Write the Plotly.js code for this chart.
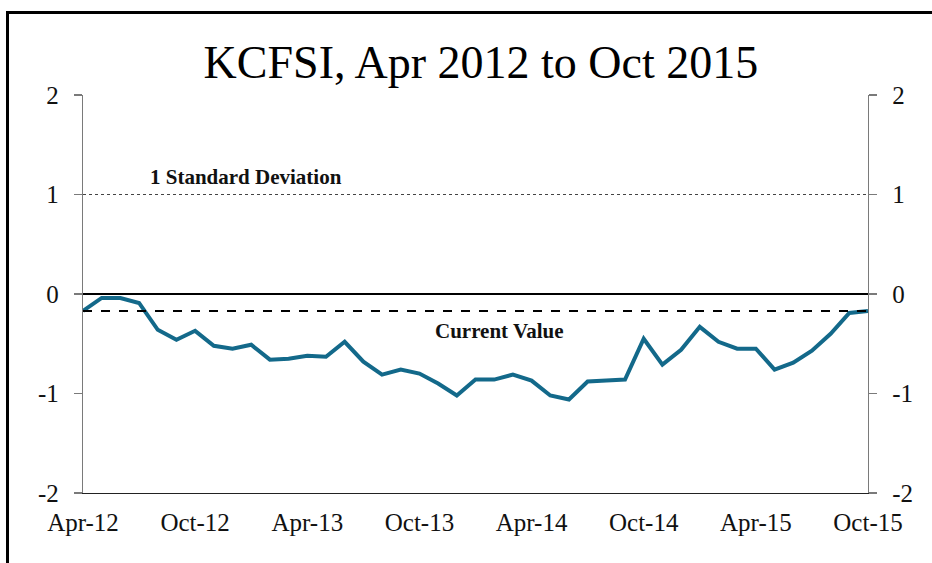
<!DOCTYPE html>
<html>
<head>
<meta charset="utf-8">
<script src="https://cdn.plot.ly/plotly-3.0.1.min.js"></script>
<style>
  html, body { margin: 0; padding: 0; background: #fff; }
  #wrap { position: relative; width: 932px; height: 563px; overflow: hidden; }
  #chart { position: absolute; left: 0; top: 0; width: 932px; height: 563px; }
  #frame { position: absolute; left: 6px; top: 11px; width: 940px; height: 600px;
           border-top: 3px solid #000; border-left: 3px solid #000; pointer-events: none; }
</style>
</head>
<body>
<div id="wrap"><div id="chart"></div><div id="frame"></div></div>
<script>
// Months (Apr-12 .. Oct-15)
const months = [
  "Apr-12","May-12","Jun-12","Jul-12","Aug-12","Sep-12","Oct-12","Nov-12","Dec-12",
  "Jan-13","Feb-13","Mar-13","Apr-13","May-13","Jun-13","Jul-13","Aug-13","Sep-13","Oct-13","Nov-13","Dec-13",
  "Jan-14","Feb-14","Mar-14","Apr-14","May-14","Jun-14","Jul-14","Aug-14","Sep-14","Oct-14","Nov-14","Dec-14",
  "Jan-15","Feb-15","Mar-15","Apr-15","May-15","Jun-15","Jul-15","Aug-15","Sep-15","Oct-15"
];
// KCFSI values
const kcfsi = [
  -0.17,-0.04,-0.04,-0.09,-0.36,-0.46,-0.37,-0.52,-0.55,
  -0.51,-0.66,-0.65,-0.62,-0.63,-0.48,-0.68,-0.81,-0.76,-0.80,-0.90,-1.02,
  -0.86,-0.86,-0.81,-0.87,-1.02,-1.06,-0.88,-0.87,-0.86,-0.45,-0.71,-0.56,
  -0.33,-0.48,-0.55,-0.55,-0.76,-0.69,-0.57,-0.40,-0.19,-0.17
];
const tickLabels = ["Apr-12","Oct-12","Apr-13","Oct-13","Apr-14","Oct-14","Apr-15","Oct-15"];
const yTicks = [-2, -1, 0, 1, 2];
const stdDev = 1;
const currentValue = -0.17;

const serif = '"Liberation Serif", "Times New Roman", Times, serif';

const traces = [
  {
    x: months, y: kcfsi, type: 'scatter', mode: 'lines',
    line: { color: '#13698a', width: 4 },
    hoverinfo: 'x+y', showlegend: false
  },
  {
    x: months, y: kcfsi, type: 'scatter', mode: 'lines', yaxis: 'y2',
    line: { color: 'rgba(0,0,0,0)', width: 0 },
    hoverinfo: 'skip', showlegend: false
  }
];

const axisY = {
  range: [-2, 2], tickvals: yTicks, ticktext: yTicks.map(String),
  showgrid: false, zeroline: false, showline: true,
  linecolor: '#7a7a7a', linewidth: 1.2,
  ticks: 'outside', ticklen: 8, tickcolor: '#7a7a7a', tickwidth: 1.2,
  ticklabelstandoff: 10,
  tickfont: { family: serif, size: 25, color: '#111' },
  fixedrange: true
};

const layout = {
  width: 932, height: 563,
  margin: { l: 83, r: 64, t: 95, b: 70 },
  paper_bgcolor: '#fff', plot_bgcolor: '#fff',
  title: {
    text: 'KCFSI, Apr 2012 to Oct 2015',
    font: { family: serif, size: 46, color: '#000' },
    x: 0.516, xref: 'container', xanchor: 'center',
    y: 0.89, yref: 'container', yanchor: 'middle'
  },
  xaxis: {
    type: 'category', range: [0, months.length - 1],
    tickvals: tickLabels, ticktext: tickLabels,
    showgrid: false, zeroline: false, showline: true,
    linecolor: '#222', linewidth: 1.2, ticks: '',
    ticklabelstandoff: 7,
    tickfont: { family: serif, size: 25, color: '#111' },
    fixedrange: true
  },
  yaxis: Object.assign({}, axisY, { side: 'left' }),
  yaxis2: Object.assign({}, axisY, { side: 'right', overlaying: 'y' }),
  shapes: [
    { type: 'line', xref: 'paper', x0: 0, x1: 1, yref: 'y', y0: 0, y1: 0,
      line: { color: '#000', width: 2 } },
    { type: 'line', xref: 'paper', x0: 0, x1: 1, yref: 'y', y0: stdDev, y1: stdDev,
      line: { color: '#444', width: 1, dash: 'dot' } },
    { type: 'line', xref: 'paper', x0: 0, x1: 1, yref: 'y', y0: currentValue, y1: currentValue,
      line: { color: '#000', width: 2, dash: 'dash' } }
  ],
  annotations: [
    { text: '<b>1 Standard Deviation</b>', xref: 'x', x: 8.7, yref: 'y', y: stdDev,
      yshift: 18, showarrow: false, xanchor: 'center', yanchor: 'middle',
      font: { family: serif, size: 21, color: '#111' } },
    { text: '<b>Current Value</b>', xref: 'x', x: 22.3, yref: 'y', y: currentValue,
      yshift: -20, showarrow: false, xanchor: 'center', yanchor: 'middle',
      font: { family: serif, size: 21, color: '#111' } }
  ],
  showlegend: false
};

Plotly.newPlot('chart', traces, layout, { displayModeBar: false, staticPlot: true });
</script>
</body>
</html>
